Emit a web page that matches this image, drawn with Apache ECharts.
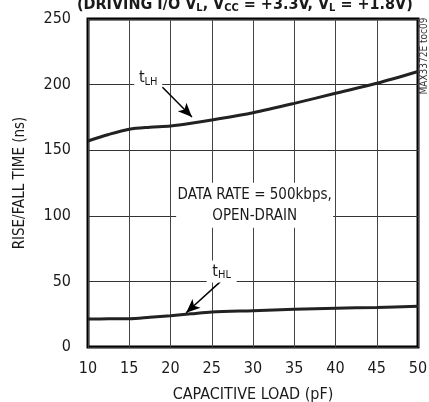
<!DOCTYPE html>
<html>
<head>
<meta charset="utf-8">
<script src="https://cdn.jsdelivr.net/npm/echarts@6/dist/echarts.min.js"></script>
<style>
  html, body { margin: 0; padding: 0; background: #fff; }
  #chart { width: 429px; height: 402px; }
</style>
</head>
<body>
<div id="chart"></div>
<script>
// capacitive load (pF) and measured rise/fall times (ns)
var loadPF = [10, 12.5, 15, 17.5, 20, 22.5, 25, 30, 35, 40, 45, 50]
var tLH = [157, 162, 166, 167.5, 168.5, 170.5, 173, 178.6, 185.7, 193.4, 201, 210]
var tHL = [21.3, 21.5, 21.6, 22.7, 23.9, 25.3, 26.7, 27.7, 28.7, 29.5, 30.2, 31]
var xTicks = [10, 15, 20, 25, 30, 35, 40, 45, 50]
var yTicks = [0, 50, 100, 150, 200, 250]

var font = '"Liberation Sans Narrow", "DejaVu Sans Condensed", "Liberation Sans", sans-serif'
var ink = '#1a1a1a'
var subRich = {
  t: { fontSize: 16, fontFamily: font, color: ink },
  s: { fontSize: 11, fontFamily: font, color: ink, padding: [8, 0, 0, 0] }
}

function pairs (ys) {
  return loadPF.map(function (x, i) { return [x, ys[i]] })
}

var chart = echarts.init(document.getElementById('chart'))
var option = {
  animation: false,
  backgroundColor: '#fff',
  title: {
    text: '(DRIVING I/O V{s|L}, V{s|CC} = +3.3V, V{s|L} = +1.8V)',
    left: 72,
    top: -10,
    textStyle: {
      fontFamily: font,
      fontSize: 16,
      fontWeight: 'bold',
      color: ink,
      rich: {
        s: { fontFamily: font, fontSize: 11, fontWeight: 'bold', color: ink, padding: [8, 0, 0, 0] }
      }
    }
  },
  grid: {
    left: 88,
    right: 11,
    top: 19,
    bottom: 55,
    outerBoundsMode: 'none',
    containLabel: false,
    show: true,
    borderColor: '#000',
    borderWidth: 3
  },
  xAxis: {
    type: 'value',
    min: xTicks[0],
    max: xTicks[xTicks.length - 1],
    interval: 5,
    name: 'CAPACITIVE LOAD (pF)',
    nameLocation: 'middle',
    nameGap: 40,
    nameTextStyle: { fontFamily: font, fontSize: 16, color: ink },
    axisLine: { show: false },
    axisTick: { show: false },
    axisLabel: { fontFamily: font, fontSize: 16, color: ink, margin: 14 },
    splitLine: { show: true, lineStyle: { color: '#444', width: 1 } }
  },
  yAxis: {
    type: 'value',
    min: yTicks[0],
    max: yTicks[yTicks.length - 1],
    interval: 50,
    name: 'RISE/FALL TIME (ns)',
    nameLocation: 'middle',
    nameGap: 60,
    nameTextStyle: { fontFamily: font, fontSize: 15, color: ink },
    axisLine: { show: false },
    axisTick: { show: false },
    axisLabel: { fontFamily: font, fontSize: 16, color: ink, margin: 17 },
    splitLine: { show: true, lineStyle: { color: '#333', width: 1 } }
  },
  graphic: [{
    type: 'text',
    x: 424,
    y: 56,
    rotation: Math.PI / 2,
    style: {
      text: 'MAX3372E toc09',
      fontFamily: font,
      fontSize: 10,
      fill: '#333',
      align: 'center',
      verticalAlign: 'middle'
    }
  }],
  series: [
    {
      name: 'tLH',
      type: 'line',
      data: pairs(tLH),
      smooth: 0.3,
      symbol: 'none',
      lineStyle: { color: '#222', width: 3 },
      markPoint: {
        silent: true,
        symbol: 'rect',
        itemStyle: { color: '#fff' },
        data: [
          {
            coord: [17.3, 205],
            symbolSize: [28, 20],
            label: { show: true, position: 'inside', formatter: '{t|t}{s|LH}', rich: subRich }
          },
          {
            coord: [30.2, 108],
            symbolSize: [157, 45],
            label: {
              show: true,
              position: 'inside',
              formatter: 'DATA RATE = 500kbps,\nOPEN-DRAIN',
              fontFamily: font,
              fontSize: 15,
              lineHeight: 21,
              color: ink,
              align: 'center'
            }
          }
        ]
      },
      markLine: {
        silent: true,
        symbol: ['none', 'arrow'],
        symbolSize: [9, 14],
        label: { show: false },
        lineStyle: { color: '#000', width: 1.5, type: 'solid' },
        data: [[{ coord: [19.0, 198.2] }, { coord: [22.6, 175.3] }]]
      }
    },
    {
      name: 'tHL',
      type: 'line',
      data: pairs(tHL),
      smooth: 0.3,
      symbol: 'none',
      lineStyle: { color: '#222', width: 3 },
      markPoint: {
        silent: true,
        symbol: 'rect',
        itemStyle: { color: '#fff' },
        data: [{
          coord: [26.2, 57.5],
          symbolSize: [30, 22],
          label: { show: true, position: 'inside', formatter: '{t|t}{s|HL}', rich: subRich }
        }]
      },
      markLine: {
        silent: true,
        symbol: ['none', 'arrow'],
        symbolSize: [9, 14],
        label: { show: false },
        lineStyle: { color: '#000', width: 1.5, type: 'solid' },
        data: [[{ coord: [26.05, 49.8] }, { coord: [21.9, 26.1] }]]
      }
    }
  ]
}
chart.setOption(option)
</script>
</body>
</html>
